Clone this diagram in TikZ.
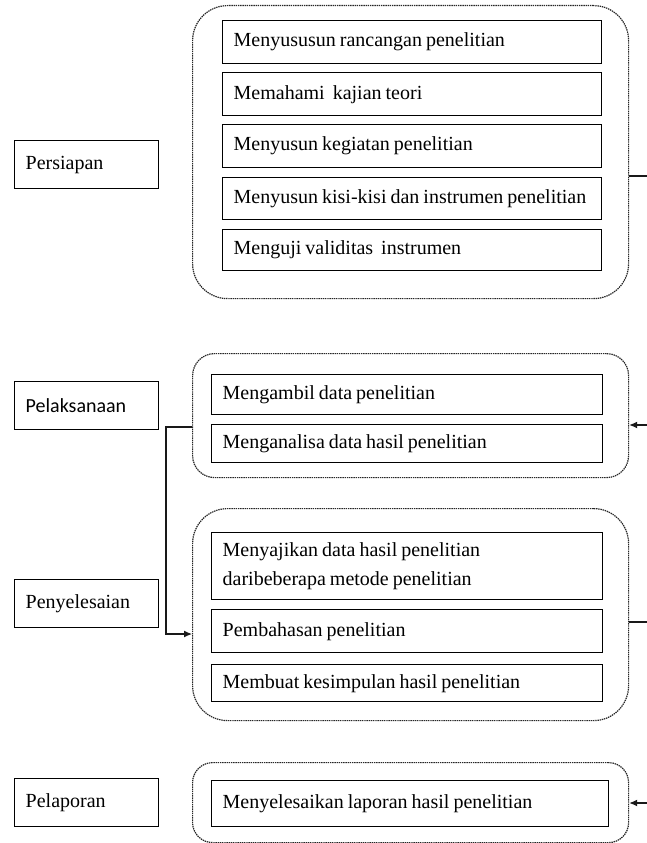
\documentclass[tikz,border=0pt]{standalone}
\usepackage{fontspec}
\setmainfont{Liberation Serif}
\newfontfamily\calib{Carlito}
\usetikzlibrary{arrows.meta}
\tikzset{
  grp/.style={draw=black!85, line width=1.2pt, dash pattern=on 1.4pt off 0.8pt, anchor=north west, minimum width=436pt, inner sep=0pt},
  itembox/.style={draw=black, line width=1.4pt, anchor=north west, inner xsep=11pt, inner ysep=0pt, align=left,
    font=\fontsize{20}{29}\selectfont, execute at begin node={\spaceskip=0.2em plus 0.05em minus 0.05em\relax\hyphenpenalty=10000\relax}},
  phase/.style={draw=black, line width=1.4pt, anchor=north west, minimum width=144pt, minimum height=48pt, inner xsep=11pt, inner ysep=0pt, text width=122pt, align=left, font=\fontsize{20}{24}\selectfont},
  conn/.style={draw=black!90, line width=1.2pt},
  arr/.style={conn, -{Latex[length=8pt,width=7pt]}}
}
\begin{document}
\begin{tikzpicture}[x=1pt,y=-1pt]
\useasboundingbox (0,0) rectangle (647,843);
% group containers
\node[grp, minimum height=293pt, rounded corners=35pt] (g1) at (192,5) {};
\node[grp, minimum height=124pt, rounded corners=22pt] (g2) at (192,353) {};
\node[grp, minimum height=212pt, rounded corners=35pt] (g3) at (192,508) {};
\node[grp, minimum height=80pt, rounded corners=20pt] (g4) at (192,762) {};
% phase labels
\node[phase] (p1) at (14,140) {Persiapan};
\node[phase, font=\calib\fontsize{20}{24}\selectfont] (p2) at (14,381) {Pelaksanaan};
\node[phase] (p3) at (14,579) {Penyelesaian};
\node[phase] (p4) at (14,778) {Pelaporan};
% Persiapan items
\node[itembox, text width=357pt, minimum height=43pt] (a1) at (222,20) {\mbox{Menyususun rancangan penelitian}};
\node[itembox, text width=357pt, minimum height=43pt] (a2) at (222,72) {\mbox{Memahami\ \ kajian teori}};
\node[itembox, text width=357pt, minimum height=43pt] (a3) at (222,124) {\mbox{Menyusun kegiatan penelitian}};
\node[itembox, text width=357pt, minimum height=42pt] (a4) at (222,177) {\mbox{Menyusun kisi-kisi dan instrumen penelitian}};
\node[itembox, text width=357pt, minimum height=41pt] (a5) at (222,229) {\mbox{Menguji validitas\ \ instrumen}};
% Pelaksanaan items
\node[itembox, text width=369pt, minimum height=40pt] (b1) at (211,374) {\mbox{Mengambil data penelitian}};
\node[itembox, text width=369pt, minimum height=38pt] (b2) at (211,424) {\mbox{Menganalisa data hasil penelitian}};
% Penyelesaian items
\node[itembox, text width=369pt, minimum height=67pt] (c1) at (211,532) {\mbox{Menyajikan data hasil penelitian}\\\mbox{daribeberapa metode penelitian}};
\node[itembox, text width=369pt, minimum height=43pt] (c2) at (211,609) {\mbox{Pembahasan penelitian}};
\node[itembox, text width=369pt, minimum height=37pt] (c3) at (211,664) {\mbox{Membuat kesimpulan hasil penelitian}};
% Pelaporan item
\node[itembox, text width=375pt, minimum height=46pt] (d1) at (211,780) {\mbox{Menyelesaikan laporan hasil penelitian}};
% connectors
\coordinate (e1) at (647,176);
\coordinate (e2) at (647,425);
\coordinate (e3) at (647,622);
\coordinate (e4) at (647,803);
\coordinate (k1) at (166,427);
\coordinate (k2) at (166,634);
\draw[conn] (e1 -| g1.east) -- (e1);
\draw[arr] (e2) -- (e2 -| g2.east);
\draw[conn] (e3 -| g3.east) -- (e3);
\draw[arr] (e4) -- (e4 -| g4.east);
\draw[arr] (k1 -| g2.west) -- (k1) -- (k2) -- (k2 -| g3.west);
\end{tikzpicture}
\end{document}
